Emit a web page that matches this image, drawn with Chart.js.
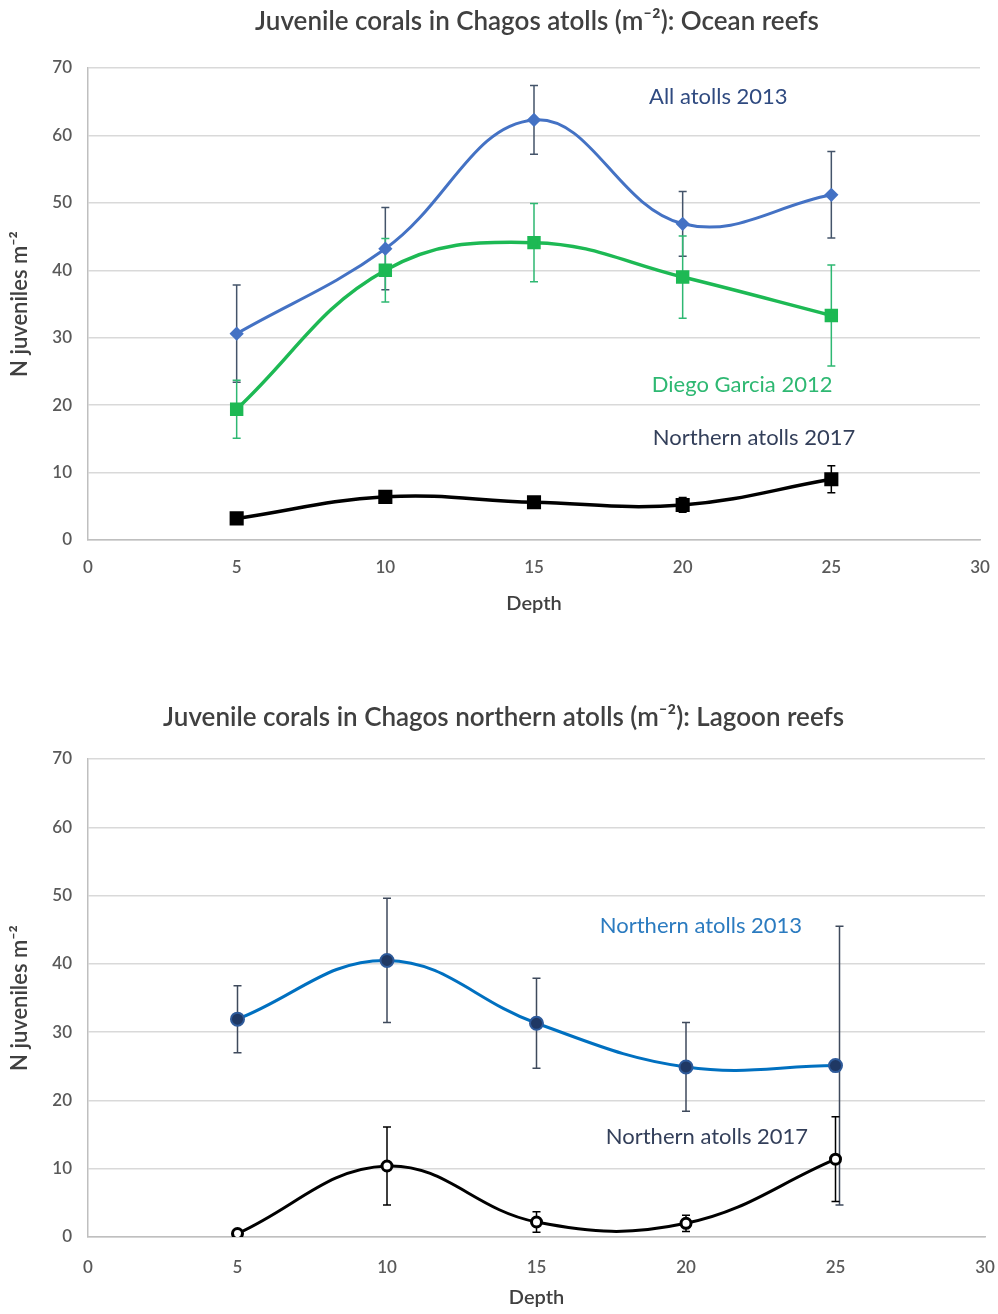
<!DOCTYPE html>
<html>
<head>
<meta charset="utf-8">
<script src="https://cdn.jsdelivr.net/npm/chart.js@4.4.1/dist/chart.umd.min.js"></script>
<style>
  html, body { margin: 0; padding: 0; background: #ffffff; }
  body { width: 998px; height: 1314px; position: relative; overflow: hidden; }
  .panel { position: absolute; left: 0; width: 998px; }
  #ocean-wrap { top: 0; height: 650px; }
  #lagoon-wrap { top: 650px; height: 664px; }
</style>
</head>
<body>
<div class="panel" id="ocean-wrap"><canvas id="ocean" width="998" height="650"></canvas></div>
<div class="panel" id="lagoon-wrap"><canvas id="lagoon" width="998" height="664"></canvas></div>
<script>
// Depth stations (m)
const depth = [5, 10, 15, 20, 25];

// Ocean reefs: mean juveniles per m² and error half-widths
const oceanAll2013      = [30.6, 43.2, 62.3, 46.9, 51.2];
const oceanAll2013Err   = [7.2, 6.1, 5.1, 4.8, 6.4];
const oceanDG2012       = [19.4, 40.0, 44.1, 39.0, 33.3];
const oceanDG2012Err    = [4.3, 4.7, 5.8, 6.1, 7.5];
const oceanNorth2017    = [3.2, 6.4, 5.6, 5.2, 9.0];
const oceanNorth2017Err = [0.6, 0.8, 0.6, 1.1, 2.0];

// Lagoon reefs (northern atolls)
const lagoonNorth2013    = [31.9, 40.5, 31.3, 24.9, 25.1];
const lagoonNorth2013Err = [4.9, 9.1, 6.6, 6.5, 20.4];
const lagoonNorth2017    = [0.5, 10.4, 2.2, 2.0, 11.4];
const lagoonNorth2017Err = [0, 5.7, 1.5, 1.2, 6.2];

// Axis ticks
const depthTicks = [0, 5, 10, 15, 20, 25, 30];
const countTicks = [0, 10, 20, 30, 40, 50, 60, 70];

const FONT = "Lato, 'Open Sans', 'DejaVu Sans', sans-serif";
const pts = (ys) => depth.map((d, i) => ({ x: d, y: ys[i] }));

// Vertical error bars with caps, drawn under the lines and markers
const errorBars = {
  id: 'errorBars',
  beforeDatasetsDraw(chart) {
    const { ctx, scales: { x, y } } = chart;
    ctx.save();
    chart.data.datasets.forEach((ds) => {
      if (!ds.errors) return;
      ctx.strokeStyle = ds.errorColor;
      ctx.lineWidth = 1.5;
      ds.data.forEach((p, i) => {
        const e = ds.errors[i];
        if (!e) return;
        const shift = (ds.errorShift && ds.errorShift[i]) || 0;
        const px = x.getPixelForValue(p.x) + shift;
        const top = y.getPixelForValue(p.y + e);
        const bot = y.getPixelForValue(p.y - e);
        ctx.beginPath();
        ctx.moveTo(px, top); ctx.lineTo(px, bot);
        ctx.moveTo(px - 4, top); ctx.lineTo(px + 4, top);
        ctx.moveTo(px - 4, bot); ctx.lineTo(px + 4, bot);
        ctx.stroke();
      });
    });
    ctx.restore();
  }
};

// Series names written inside the plot, anchored in data units
const seriesNames = {
  id: 'seriesNames',
  afterDatasetsDraw(chart, args, opts) {
    const { ctx, scales: { x, y } } = chart;
    ctx.save();
    ctx.font = `22px ${FONT}`;
    ctx.textAlign = 'center';
    ctx.textBaseline = 'middle';
    (opts.items || []).forEach((it) => {
      ctx.fillStyle = it.color;
      ctx.fillText(it.text, x.getPixelForValue(it.x), y.getPixelForValue(it.y));
    });
    ctx.restore();
  }
};

// Chart heading, centred on a chosen depth value above the plot
const heading = {
  id: 'heading',
  afterDraw(chart, args, opts) {
    const { ctx, scales: { x } } = chart;
    ctx.save();
    ctx.font = `600 26px ${FONT}`;
    ctx.fillStyle = '#404040';
    ctx.textAlign = 'center';
    ctx.textBaseline = 'middle';
    ctx.fillText(opts.text, x.getPixelForValue(opts.centre), opts.y);
    ctx.restore();
  }
};

function makeOptions(cfg) {
  return {
    responsive: false,
    animation: false,
    devicePixelRatio: 1,
    layout: { padding: cfg.padding },
    plugins: {
      legend: { display: false },
      tooltip: { enabled: false },
      title: { display: false },
      heading: { text: cfg.title, centre: cfg.titleCentre, y: cfg.titleY },
      seriesNames: { items: cfg.names }
    },
    scales: {
      x: {
        type: 'linear',
        min: 0, max: 30,
        afterBuildTicks: (s) => { s.ticks = depthTicks.map((v) => ({ value: v })); },
        afterFit: (s) => { s.height = cfg.xHeight; s.paddingLeft = 0; s.paddingRight = 0; },
        grid: { display: false, drawTicks: false },
        border: { display: true, color: '#BFBFBF', width: 1.5 },
        ticks: { color: '#595959', padding: cfg.xTickPad, font: { family: FONT, size: 17, weight: '600' } },
        title: {
          display: true, text: 'Depth', color: '#404040',
          font: { family: FONT, size: 20, weight: '600' },
          padding: { top: cfg.xTitlePad, bottom: 0 }
        }
      },
      y: {
        min: 0, max: 70,
        afterBuildTicks: (s) => { s.ticks = countTicks.map((v) => ({ value: v })); },
        afterFit: (s) => { s.width = cfg.yWidth; },
        grid: { color: '#D9D9D9', lineWidth: 1.5, drawTicks: false },
        border: { display: true, color: '#BFBFBF', width: 1.5 },
        ticks: { color: '#595959', padding: 16, font: { family: FONT, size: 17, weight: '600' } },
        title: {
          display: true, text: 'N juveniles m⁻²', color: '#404040',
          font: { family: FONT, size: 22, weight: '600' },
          padding: { top: 7, bottom: 0 }
        }
      }
    }
  };
}

new Chart(document.getElementById('ocean'), {
  type: 'line',
  data: {
    datasets: [
      {
        data: pts(oceanAll2013), errors: oceanAll2013Err, errorColor: '#44546A',
        borderColor: '#4472C4', borderWidth: 3, tension: 0.4,
        pointStyle: 'rectRot', pointRadius: 5, pointBackgroundColor: '#4472C4', pointBorderColor: '#4472C4'
      },
      {
        data: pts(oceanDG2012), errors: oceanDG2012Err, errorColor: '#2EB872',
        borderColor: '#1DB954', borderWidth: 3.5, tension: 0.4,
        pointStyle: 'rect', pointRadius: 7, pointBackgroundColor: '#1DB954', pointBorderColor: '#1DB954'
      },
      {
        data: pts(oceanNorth2017), errors: oceanNorth2017Err, errorColor: '#000000',
        borderColor: '#000000', borderWidth: 3.5, tension: 0.4,
        pointStyle: 'rect', pointRadius: 7.5, pointBackgroundColor: '#000000', pointBorderColor: '#000000'
      }
    ]
  },
  options: makeOptions({
    title: 'Juvenile corals in Chagos atolls (m⁻²): Ocean reefs',
    titleCentre: 15.1, titleY: 22,
    padding: { top: 68, left: 0, right: 18, bottom: 34 },
    yWidth: 88, xHeight: 76, xTickPad: 17, xTitlePad: 6,
    names: [
      { text: 'All atolls 2013', x: 21.2, y: 65.7, color: '#2F4A80' },
      { text: 'Diego Garcia 2012', x: 22.0, y: 23.0, color: '#2EB872' },
      { text: 'Northern atolls 2017', x: 22.4, y: 15.2, color: '#333F5A' }
    ]
  }),
  plugins: [errorBars, seriesNames, heading]
});

new Chart(document.getElementById('lagoon'), {
  type: 'line',
  data: {
    datasets: [
      {
        data: pts(lagoonNorth2013), errors: lagoonNorth2013Err, errorColor: '#3F4A5C',
        errorShift: [0, 0, 0, 0, 4],
        borderColor: '#0070C0', borderWidth: 3, tension: 0.4,
        pointStyle: 'circle', pointRadius: 6.5, pointBackgroundColor: '#1F3864', pointBorderColor: '#2E5A9A', pointBorderWidth: 2
      },
      {
        data: pts(lagoonNorth2017), errors: lagoonNorth2017Err, errorColor: '#000000',
        borderColor: '#000000', borderWidth: 3, tension: 0.4,
        pointStyle: 'circle', pointRadius: 5, pointBackgroundColor: '#FFFFFF', pointBorderColor: '#000000', pointBorderWidth: 3
      }
    ]
  },
  options: makeOptions({
    title: 'Juvenile corals in Chagos northern atolls (m⁻²): Lagoon reefs',
    titleCentre: 13.9, titleY: 68,
    padding: { top: 109, left: 0, right: 13, bottom: 4 },
    yWidth: 88, xHeight: 73, xTickPad: 20, xTitlePad: 10,
    names: [
      { text: 'Northern atolls 2013', x: 20.5, y: 45.6, color: '#2B7BC0' },
      { text: 'Northern atolls 2017', x: 20.7, y: 14.7, color: '#333F5A' }
    ]
  }),
  plugins: [errorBars, seriesNames, heading]
});
</script>
</body>
</html>
